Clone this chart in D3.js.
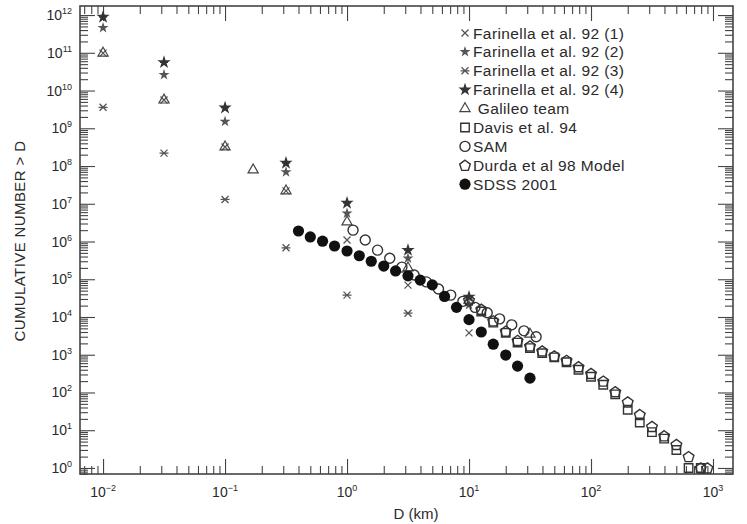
<!DOCTYPE html>
<html><head><meta charset="utf-8">
<script src="https://cdn.jsdelivr.net/npm/d3@7"></script>
<style>body{margin:0;background:#fff;} svg{display:block;font-family:"Liberation Sans",Arial,Helvetica,sans-serif;}</style>
</head><body><svg id="c" width="747" height="524"></svg>
<script>
// ---------------- data ----------------
const farinellaD = [0.01, 0.0316, 0.1, 0.316, 1, 3.16, 10];
const farinella1 = [9.8e10, 5.6e9, 3.2e8, 2.2e7, 1.1e6, 7.0e4, 3.8e3];
const farinella2 = [4.6e11, 2.6e10, 1.5e9, 6.9e7, 5.6e6, 3.6e5, 2.1e4];
const farinella3D = [0.01, 0.0316, 0.1, 0.316, 1, 3.16];
const farinella3 = [3.6e9, 2.2e8, 1.3e7, 6.8e5, 3.8e4, 1.26e4];
const farinella4 = [8.9e11, 5.6e10, 3.5e9, 1.2e8, 1.05e7, 5.9e5, 3.4e4];

const galileoD = [0.01, 0.0316, 0.1, 0.17, 0.316, 1, 3.16, 10, 31.6];
const galileoN = [9.8e10, 5.6e9, 3.2e8, 7.9e7, 2.2e7, 3.3e6, 2.0e5, 2.8e4, 3.5e3];

const davisD = [12.6, 15.8, 20, 25, 31.6, 39.8, 50, 63, 79, 100, 126, 158, 200, 251, 316, 398, 501, 631, 794];
const davisN = [1.4e4, 7.1e3, 3.8e3, 2.1e3, 1.5e3, 1.1e3, 850, 630, 400, 260, 160, 89, 35, 16, 8.9, 6.0, 3.0, 1, 1];

const samD = [1.12, 1.41, 1.78, 2.24, 2.82, 3.55, 4.47, 5.62, 7.08, 8.91, 11.2, 14.1, 17.8, 22.4, 28.2, 35.5];
const samN = [2.0e6, 1.1e6, 5.9e5, 3.6e5, 2.1e5, 1.3e5, 8.5e4, 5.5e4, 3.8e4, 2.6e4, 1.8e4, 1.3e4, 8.9e3, 6.2e3, 4.3e3, 3.0e3];

const durdaD = [10, 12.6, 15.8, 20, 25, 31.6, 39.8, 50, 63, 79, 100, 126, 158, 200, 251, 316, 398, 501, 631, 794, 900];
const durdaN = [2.8e4, 1.6e4, 7.9e3, 4.2e3, 2.4e3, 1.7e3, 1.26e3, 930, 710, 480, 320, 200, 105, 56, 26, 12.6, 7.1, 4.2, 2.0, 1, 1];

const sdssD = [0.4, 0.5, 0.63, 0.79, 1.0, 1.26, 1.58, 2.0, 2.5, 3.16, 3.98, 5.0, 6.3, 7.9, 10, 12.6, 15.8, 20, 25, 31.6];
const sdssN = [1.9e6, 1.32e6, 1.02e6, 7.6e5, 5.6e5, 4.2e5, 3.0e5, 2.24e5, 1.66e5, 1.23e5, 9.5e4, 7.1e4, 3.5e4, 1.8e4, 8.5e3, 4.0e3, 1.9e3, 9.8e2, 5.0e2, 2.4e2];

const xTickExp = [-2, -1, 0, 1, 2, 3];
const yTickExp = [0, 1, 2, 3, 4, 5, 6, 7, 8, 9, 10, 11, 12];

const legendLabels = ["Farinella et al. 92 (1)", "Farinella et al. 92 (2)", "Farinella et al. 92 (3)", "Farinella et al. 92 (4)",
  " Galileo team", "Davis et al. 94", "SAM", "Durda et al 98 Model", "SDSS 2001"];
const legendTypes = ["x", "star", "aster", "fstar", "tri", "sq", "circ", "pent", "dot"];

// ---------------- chart ----------------
const svg = d3.select("#c");
const L = 80, R = 733, T = 6, B = 474;
const x = d3.scaleLog().domain([Math.pow(10, -2.189), Math.pow(10, 3.164)]).range([L, R]);
const y = d3.scaleLog().domain([Math.pow(10, -0.16), Math.pow(10, 12.24)]).range([B, T]);

function minorVals(scale, lo, hi) {
  const out = [];
  const [d0, d1] = scale.domain();
  for (let k = lo; k <= hi; k++) for (let m = 2; m <= 9; m++) {
    const v = m * Math.pow(10, k);
    if (v >= d0 && v <= d1) out.push(v);
  }
  return out;
}
const xMajor = xTickExp.map(e => Math.pow(10, e));
const yMajor = yTickExp.map(e => Math.pow(10, e));
const xMinor = minorVals(x, -3, 3);
const yMinor = minorVals(y, -1, 12);

const axCol = "#444";
function styleAxis(g) {
  g.select(".domain").remove();
  g.selectAll(".tick line").attr("stroke", axCol).attr("stroke-width", 1.1);
}
// bottom
svg.append("g").attr("transform", `translate(0,${B})`).call(d3.axisBottom(x).tickValues(xMajor).tickSize(-15).tickFormat("")).call(styleAxis);
svg.append("g").attr("transform", `translate(0,${B})`).call(d3.axisBottom(x).tickValues(xMinor).tickSize(-8).tickFormat("")).call(styleAxis);
// top
svg.append("g").attr("transform", `translate(0,${T})`).call(d3.axisTop(x).tickValues(xMajor).tickSize(-15).tickFormat("")).call(styleAxis);
svg.append("g").attr("transform", `translate(0,${T})`).call(d3.axisTop(x).tickValues(xMinor).tickSize(-8).tickFormat("")).call(styleAxis);
// left
svg.append("g").attr("transform", `translate(${L},0)`).call(d3.axisLeft(y).tickValues(yMajor).tickSize(-15).tickFormat("")).call(styleAxis);
svg.append("g").attr("transform", `translate(${L},0)`).call(d3.axisLeft(y).tickValues(yMinor).tickSize(-8).tickFormat("")).call(styleAxis);
// right
svg.append("g").attr("transform", `translate(${R},0)`).call(d3.axisRight(y).tickValues(yMajor).tickSize(-15).tickFormat("")).call(styleAxis);
svg.append("g").attr("transform", `translate(${R},0)`).call(d3.axisRight(y).tickValues(yMinor).tickSize(-8).tickFormat("")).call(styleAxis);

svg.append("rect").attr("x", L).attr("y", T).attr("width", R - L).attr("height", B - T)
  .attr("fill", "none").attr("stroke", axCol).attr("stroke-width", 1.6);

// tick labels
const txtCol = "#2a2a2a";
xTickExp.forEach(e => {
  const t = svg.append("text").attr("x", x(Math.pow(10, e))).attr("y", 497)
    .attr("text-anchor", "middle").attr("font-size", 14).attr("fill", txtCol);
  t.append("tspan").text("10");
  t.append("tspan").attr("dy", -6).attr("font-size", 9).text(e < 0 ? "\u2212" + (-e) : String(e));
});
yTickExp.forEach(e => {
  const t = svg.append("text").attr("x", 72).attr("y", y(Math.pow(10, e)) + 5)
    .attr("text-anchor", "end").attr("font-size", 14).attr("fill", txtCol);
  t.append("tspan").text("10");
  t.append("tspan").attr("dy", -6).attr("font-size", 9).text(String(e));
});

// axis titles
svg.append("text").attr("transform", "translate(25,241) rotate(-90)").attr("text-anchor", "middle")
  .attr("font-size", 15).attr("letter-spacing", 0.4).attr("fill", txtCol).text("CUMULATIVE NUMBER > D");
svg.append("text").attr("x", 416).attr("y", 519).attr("text-anchor", "middle")
  .attr("font-size", 15).attr("fill", txtCol).text("D (km)");

// symbols
const symCol = "#444";
function drawSym(g, type) {
  switch (type) {
    case "x":
      g.append("path").attr("d", "M-3.5,-3.5L3.5,3.5M-3.5,3.5L3.5,-3.5").attr("stroke", "#555").attr("stroke-width", 1.3).attr("fill", "none"); break;
    case "star":
      g.append("path").attr("d", d3.symbol(d3.symbolStar, 38)()).attr("fill", "#555"); break;
    case "aster":
      g.append("path").attr("d", "M-3.5,-3.5L3.5,3.5M-3.5,3.5L3.5,-3.5M-4.5,0L4.5,0").attr("stroke", "#555").attr("stroke-width", 1.3).attr("fill", "none"); break;
    case "fstar":
      g.append("path").attr("d", d3.symbol(d3.symbolStar, 55)()).attr("fill", "#333");
      g.append("path").attr("d", "M-4,0L4,0").attr("stroke", "#333").attr("stroke-width", 1.2); break;
    case "tri":
      g.append("path").attr("d", d3.symbol(d3.symbolTriangle, 45)()).attr("fill", "none").attr("stroke", symCol).attr("stroke-width", 1.2); break;
    case "sq":
      g.append("path").attr("d", d3.symbol(d3.symbolSquare, 72)()).attr("fill", "none").attr("stroke", "#333").attr("stroke-width", 1.4); break;
    case "circ":
      g.append("circle").attr("r", 5).attr("fill", "none").attr("stroke", "#333").attr("stroke-width", 1.4); break;
    case "pent": {
      const pts = d3.range(5).map(i => { const a = -Math.PI / 2 + i * 2 * Math.PI / 5; return [5.6 * Math.cos(a), 5.6 * Math.sin(a) + 0.5]; });
      g.append("path").attr("d", "M" + pts.join("L") + "Z").attr("fill", "none").attr("stroke", "#333").attr("stroke-width", 1.4); break;
    }
    case "dot":
      g.append("circle").attr("r", 5.6).attr("fill", "#111"); break;
  }
}
function series(Ds, Ns, type) {
  const g = svg.append("g");
  Ds.forEach((d, i) => {
    const s = g.append("g").attr("transform", `translate(${x(d)},${y(Ns[i])})`);
    drawSym(s, type);
  });
}
series(farinellaD, farinella1, "x");
series(farinellaD, farinella2, "star");
series(farinella3D, farinella3, "aster");
series(farinellaD, farinella4, "fstar");
series(galileoD, galileoN, "tri");
series(davisD, davisN, "sq");
series(samD, samN, "circ");
series(durdaD, durdaN, "pent");
series(sdssD, sdssN, "dot");

// legend
const leg = svg.append("g");
legendLabels.forEach((lab, i) => {
  const yy = 33 + i * 18.9;
  const s = leg.append("g").attr("transform", `translate(465,${yy})`);
  drawSym(s, legendTypes[i]);
  leg.append("text").attr("x", 473).attr("y", yy + 5.5).attr("font-size", 15.5).attr("letter-spacing", 0.4)
    .attr("fill", txtCol).text(lab).style("white-space", "pre");
});
</script></body></html>
